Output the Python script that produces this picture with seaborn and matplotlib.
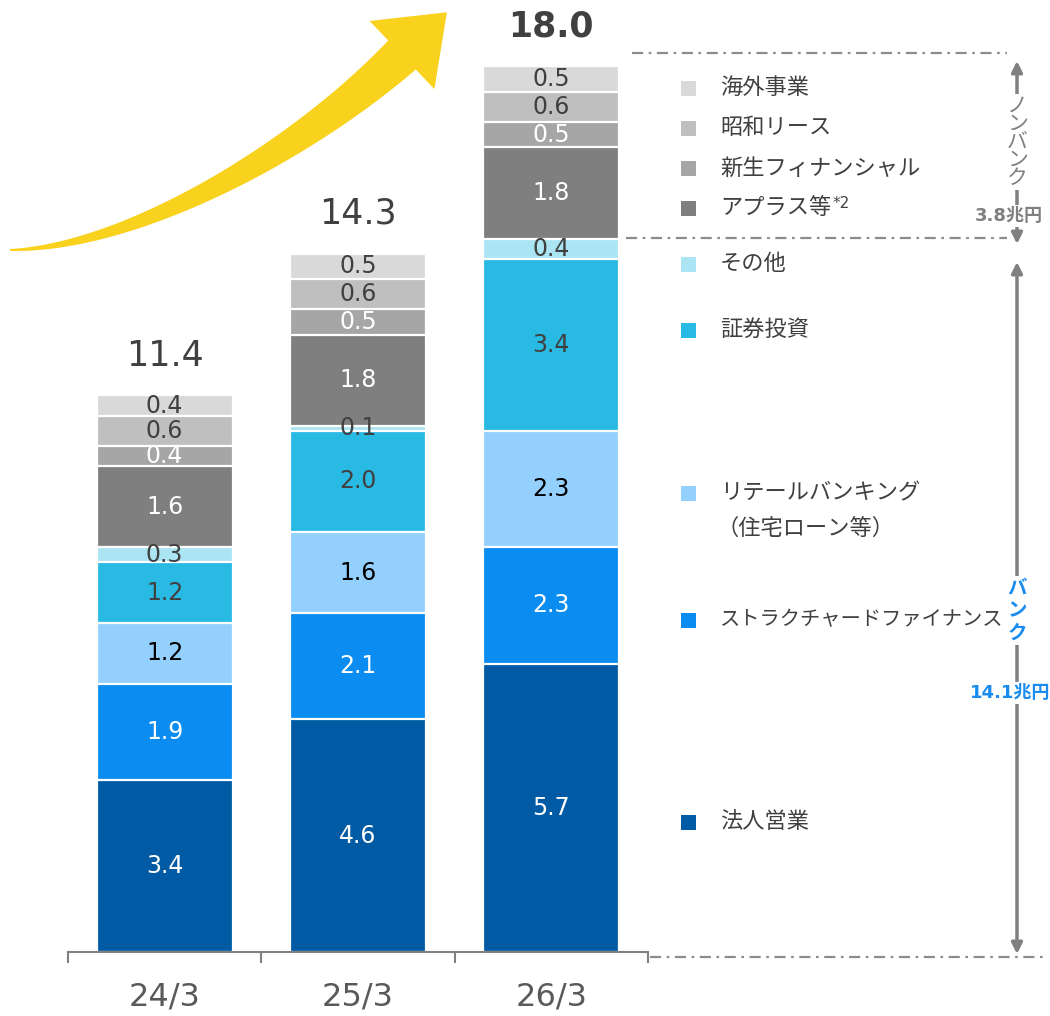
import numpy as np
import pandas as pd
import matplotlib
matplotlib.use("Agg")
import matplotlib.pyplot as plt
import seaborn as sns
from matplotlib.patches import Rectangle, Polygon
from matplotlib.lines import Line2D
from matplotlib.transforms import Affine2D

# ---------------- data ----------------
categories = ["24/3", "25/3", "26/3"]
segments = ["法人営業", "ストラクチャードファイナンス", "リテールバンキング", "証券投資",
            "その他", "アプラス等", "新生フィナンシャル", "昭和リース", "海外事業"]
hojin = [3.4, 4.6, 5.7]
structured = [1.9, 2.1, 2.3]
retail = [1.2, 1.6, 2.3]
securities = [1.2, 2.0, 3.4]
other = [0.3, 0.1, 0.4]
aplus = [1.6, 1.8, 1.8]
shinsei_fin = [0.4, 0.5, 0.5]
showa = [0.6, 0.6, 0.6]
overseas = [0.4, 0.5, 0.5]
total_labels = ["11.4", "14.3", "18.0"]
bank_label = "14.1兆円"
nonbank_label = "3.8兆円"

# ---------------- style ----------------
seg_colors = ["#005BA4", "#0A8CF0", "#94D0FE", "#29BAE3", "#ABE4F3",
              "#7F7F7F", "#A6A6A6", "#BFBFBF", "#D9D9D9"]
txt_colors = ["white", "white", "black", "#404040", "#404040",
              "white", "white", "#404040", "#404040"]
legend_rows_y = [822, 620, 493, 330, 264, 208, 168, 128, 88]
legend_sizes = [16, 14.6, 16, 16, 16, 16, 16, 16, 16]

sns.set_theme(style="white")
plt.rcParams["font.family"] = ["DejaVu Sans", "Noto Sans CJK JP"]

W, H = 1050, 1016
fig = plt.figure(figsize=(W / 100, H / 100), dpi=100)
px_per_unit = 50.6
base_y = 952
slot = 193.33
ax = fig.add_axes([68 / W, (H - base_y) / H, (W - 68) / W, base_y / H])

# pixel transform (top-down)
pix = Affine2D().scale(1 / W, -1 / H).translate(0, 1) + fig.transFigure

df = pd.DataFrame({"cat": categories, "法人営業": hojin, "ストラクチャードファイナンス": structured,
                   "リテールバンキング": retail, "証券投資": securities, "その他": other,
                   "アプラス等": aplus, "新生フィナンシャル": shinsei_fin,
                   "昭和リース": showa, "海外事業": overseas})
cum = df[segments].cumsum(axis=1)

for i in reversed(range(len(segments))):
    seg = segments[i]
    sns.barplot(x=df["cat"], y=cum[seg], color=seg_colors[i], saturation=1,
                width=0.705, edgecolor="white", linewidth=1.6, ax=ax)

# segment labels
for i, seg in enumerate(segments):
    for j in range(len(categories)):
        v = df[seg].iloc[j]
        yc = cum[seg].iloc[j] - v / 2
        ax.text(j, yc, f"{v:.1f}", ha="center", va="center", fontsize=17,
                color=txt_colors[i])

# totals
for j, lab in enumerate(total_labels):
    top = cum[segments[-1]].iloc[j]
    ax.text(j, top + 0.45, lab, ha="center", va="bottom", fontsize=25,
            color="#404040", fontweight="bold" if j == 2 else "normal")

ax.set_xlim(-0.5, -0.5 + (W - 68) / slot)
ax.set_ylim(0, base_y / px_per_unit)
ax.set_xlabel("")
ax.set_ylabel("")
ax.set_yticks([])
for s in ["left", "top", "right"]:
    ax.spines[s].set_visible(False)
ax.spines["bottom"].set_bounds(-0.5, 2.5)
ax.spines["bottom"].set_color("#808080")
ax.spines["bottom"].set_linewidth(1.5)
ax.set_xticks(range(len(categories)))
ax.set_xticklabels(categories)
ax.set_xticks([-0.5, 0.5, 1.5, 2.5], minor=True)
ax.tick_params(axis="x", which="major", length=0, pad=21, labelsize=23,
               labelcolor="#595959")
ax.tick_params(axis="x", which="minor", bottom=True, length=8, width=1.5,
               color="#808080", direction="out")

# legend (manual, right side)
for i, lab in enumerate(segments):
    y = legend_rows_y[i]
    fig.add_artist(Rectangle((681, y - 7.5), 15, 15, transform=pix,
                             facecolor=seg_colors[i], edgecolor="none"))
    t = fig.text(720, y, lab, transform=pix, ha="left", va="center",
                 fontsize=legend_sizes[i], color="#404040")
    if lab == "アプラス等":
        plt.annotate("*2", xy=(1, 1), xycoords=t, ha="left", va="top",
                     fontsize=11, color="#404040", xytext=(1, 1),
                     textcoords="offset points")
    if lab == "リテールバンキング":
        fig.text(717, y + 35, "（住宅ローン等）", transform=pix, ha="left",
                 va="center", fontsize=legend_sizes[i], color="#404040")

# dash-dot separators
dd = (0, (5, 2.5, 1.2, 2.5))
for (x0, x1, y) in [(632, 1007, 52.5), (626, 1007, 237.5), (650, 1045, 957)]:
    fig.add_artist(Line2D([x0, x1], [y, y], transform=pix, color="#8C8C8C",
                          lw=1.6, linestyle=dd))

# vertical bracket arrows
gray = "#808080"
blue = "#1A8CF0"
for (y0, y1) in [(61, 244), (262, 954)]:
    ax.annotate("", xy=(1017, y0), xytext=(1017, y1), xycoords=pix,
                textcoords=pix,
                arrowprops=dict(arrowstyle="<|-|>", color=gray, lw=2.5,
                                mutation_scale=16, shrinkA=0, shrinkB=0))

bg = dict(facecolor="white", edgecolor="none", pad=1.5)
for k, ch in enumerate("ノンバンク"):
    fig.text(1017, 106 + k * 18, ch, transform=pix, ha="center", va="center",
             fontsize=15, color=gray, bbox=bg)
fig.text(1009, 216, nonbank_label, transform=pix, ha="center", va="center",
         fontsize=13, color=gray, fontweight="bold", bbox=bg)
for k, ch in enumerate("バンク"):
    fig.text(1017, 588 + k * 22.5, ch, transform=pix, ha="center", va="center",
             fontsize=14, color=blue, fontweight="bold", bbox=bg)
fig.text(1010, 693, bank_label, transform=pix, ha="center", va="center",
         fontsize=13, color=blue, fontweight="bold", bbox=bg)

# yellow growth arrow (decoration)
P = np.array([[10, 250], [130, 248], [300, 152], [402, 55]], dtype=float)
t = np.linspace(0, 1, 120)[:, None]
B = ((1 - t) ** 3) * P[0] + 3 * ((1 - t) ** 2) * t * P[1] + 3 * (1 - t) * t ** 2 * P[2] + t ** 3 * P[3]
D = -3 * (1 - t) ** 2 * P[0] + 3 * ((1 - t) ** 2 - 2 * t * (1 - t)) * P[1] + 3 * (2 * t * (1 - t) - t ** 2) * P[2] + 3 * t ** 2 * P[3]
D = D / np.linalg.norm(D, axis=1, keepdims=True)
N = np.column_stack([D[:, 1], -D[:, 0]])
w = (2 + 38 * t[:, 0] ** 1.1) / 2
upper = B - N * w[:, None]
lower = B + N * w[:, None]
d_end = D[-1]
n_end = N[-1]
tip = P[3] + d_end * 62
c1 = P[3] - n_end * 47
c2 = P[3] + n_end * 47
poly = np.vstack([upper, c1, tip, c2, lower[::-1]])
fig.add_artist(Polygon(poly, closed=True, transform=pix, facecolor="#F9D21E",
                       edgecolor="none"))

fig.savefig("out.png", dpi=100)
